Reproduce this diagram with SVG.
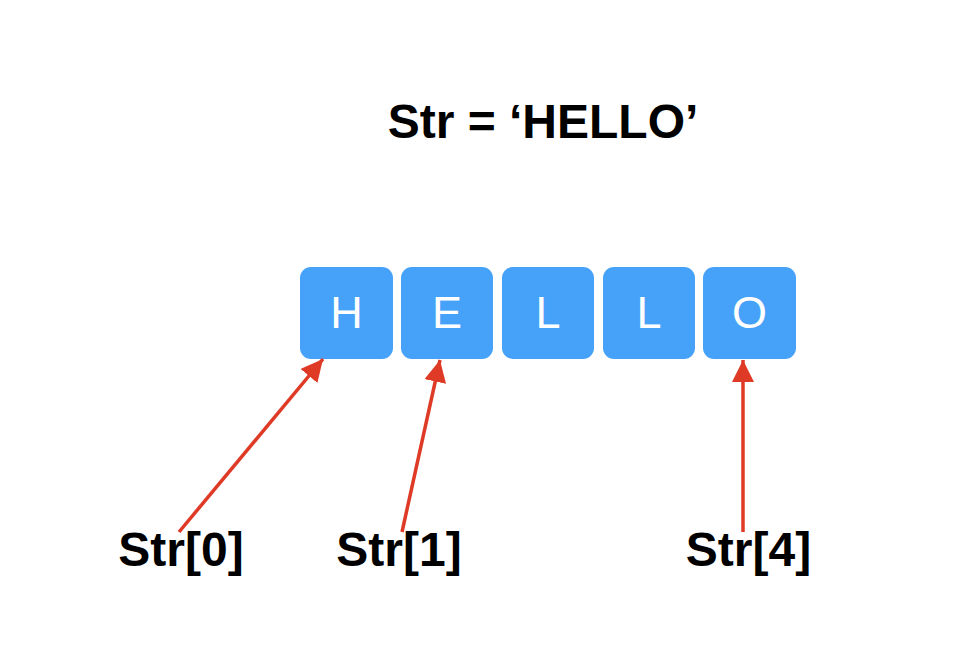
<svg xmlns="http://www.w3.org/2000/svg" width="964" height="662" viewBox="0 0 964 662">
<style>
.box{fill:#46A2F8;}
.ch{font-family:"Liberation Sans",Arial,sans-serif;font-size:45px;fill:#ffffff;text-anchor:middle;}
.lbl{font-family:"Liberation Sans",Arial,sans-serif;font-weight:bold;font-size:48px;fill:#000000;text-anchor:middle;}
.arr{stroke:#DE3A26;stroke-width:3.5;fill:none;marker-end:url(#ah);}
</style>
<defs>
<marker id="ah" markerUnits="userSpaceOnUse" markerWidth="22" markerHeight="22" viewBox="0 0 20 20" refX="20" refY="10" orient="auto">
<path d="M0,0 L20,10 L0,20 z" fill="#DE3A26"/>
</marker>
</defs>
<rect width="964" height="662" fill="#ffffff"/>
<g id="title"><text class="lbl" x="543" y="138" font-size="43">Str = ‘HELLO’</text></g>
<g id="box-h"><rect class="box" x="300" y="267" width="93" height="92" rx="11"/><text class="ch" x="346.5" y="328">H</text></g>
<g id="box-e"><rect class="box" x="401" y="267" width="92" height="92" rx="11"/><text class="ch" x="447" y="328">E</text></g>
<g id="box-l1"><rect class="box" x="502" y="267" width="92" height="92" rx="11"/><text class="ch" x="548" y="328">L</text></g>
<g id="box-l2"><rect class="box" x="603" y="267" width="92" height="92" rx="11"/><text class="ch" x="649" y="328">L</text></g>
<g id="box-o"><rect class="box" x="703" y="267" width="93" height="92" rx="11"/><text class="ch" x="749.5" y="328">O</text></g>
<g id="label-0"><text class="lbl" x="181" y="566">Str[0]</text></g>
<g id="label-1"><text class="lbl" x="399" y="566">Str[1]</text></g>
<g id="label-4"><text class="lbl" x="748.5" y="566">Str[4]</text></g>
<g id="connectors">
<line class="arr" x1="179" y1="532" x2="323" y2="359"/>
<line class="arr" x1="402" y1="532" x2="440" y2="360"/>
<line class="arr" x1="743" y1="532" x2="743" y2="360"/>
</g>
</svg>
